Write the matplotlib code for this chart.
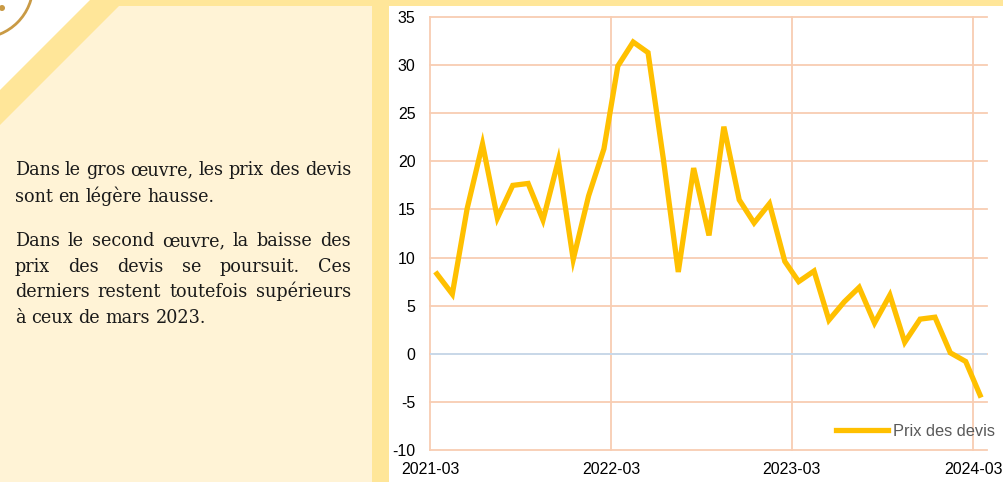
import matplotlib
matplotlib.use("Agg")
import matplotlib.pyplot as plt
from matplotlib.patches import Polygon, Arc, Circle
import pandas as pd

plt.rcParams["axes.unicode_minus"] = False

# data (one value per month, 2021-03 .. 2024-03)
months = pd.date_range("2021-03-01", periods=37, freq="MS") + pd.Timedelta(days=14)
prix_devis = [8.3, 6.2, 15.1, 21.8, 14.1, 17.5, 17.7, 13.9, 20.1, 9.8,
              16.4, 21.3, 29.9, 32.4, 31.3, 20.2, 8.5, 19.3, 12.3, 23.6,
              16.0, 13.6, 15.6, 9.6, 7.5, 8.6, 3.5, 5.4, 6.9, 3.2,
              6.1, 1.2, 3.6, 3.8, 0.1, -0.8, -4.3]
tick_dates = pd.to_datetime(["2021-03-01", "2022-03-01", "2023-03-01", "2024-03-01"])
tick_labels = ["2021-03", "2022-03", "2023-03", "2024-03"]
yticks = list(range(-10, 36, 5))

paragraphs = [
    ["Dans le gros œuvre, les prix des devis",
     "sont en légère hausse."],
    ["Dans le second œuvre, la baisse des",
     "prix des devis se poursuit. Ces",
     "derniers restent toutefois supérieurs",
     "à ceux de mars 2023."],
]

W, H = 1004, 482
fig = plt.figure(figsize=(W / 100, H / 100), dpi=100)

# background decoration in pixel coordinates
bg = fig.add_axes([0, 0, 1, 1], zorder=-1)
bg.set_xlim(0, W)
bg.set_ylim(H, 0)
bg.axis("off")
yellow = "#FFE699"
cream = "#FFF3D6"
bg.add_patch(Polygon([(90, 0), (W, 0), (W, 6), (389, 6), (389, H), (0, H), (0, 90)],
                     closed=True, color=yellow, lw=0))
bg.add_patch(Polygon([(119, 6), (372, 6), (372, H), (0, H), (0, 125)],
                     closed=True, color=cream, lw=0))
bg.add_patch(Arc((-20, -15), 106, 106, theta1=0, theta2=90, color="#C99A45", lw=2))
bg.add_patch(Circle((2, 8), 3, color="#C99A45", lw=0))

# justified text on the left
renderer = fig.canvas.get_renderer()
x0, x1 = 15, 351
baselines = [[175, 201.5], [246.5, 272, 297, 323]]
font = dict(family="DejaVu Serif", size=12.7, color="#1a1a1a")


def width_of(s):
    t = fig.text(0, 0, s, **font)
    w = t.get_window_extent(renderer).width
    t.remove()
    return w


space = width_of("a a") - width_of("aa")
for para, ys in zip(paragraphs, baselines):
    for i, (line, yb) in enumerate(zip(para, ys)):
        words = line.split(" ")
        texts = [fig.text(0, 1 - yb / H, w, va="baseline", ha="left", **font) for w in words]
        widths = [t.get_window_extent(renderer).width for t in texts]
        if i < len(para) - 1 and len(words) > 1:
            gap = (x1 - x0 - sum(widths)) / (len(words) - 1)
        else:
            gap = space
        x = x0
        for t, w in zip(texts, widths):
            t.set_x(x / W)
            x += w + gap

# chart
ax = fig.add_axes([430 / W, 1 - 450 / H, (987 - 430) / W, (450 - 17) / H])
ax.set_facecolor("none")
ax.plot(months, prix_devis, color="#FFC000", lw=3.8, label="Prix des devis",
        zorder=3, solid_joinstyle="miter")
ax.axhline(0, color="#C5D9EE", lw=1.3, zorder=2)
ax.set_ylim(-10, 35)
ax.set_xlim(pd.Timestamp("2021-03-01"), pd.Timestamp("2024-03-29"))
ax.set_yticks(yticks)
ax.set_xticks(tick_dates)
ax.set_xticklabels(tick_labels)
ax.tick_params(length=0, labelsize=11.5, colors="black")
ax.tick_params(axis="y", pad=10.5)
ax.tick_params(axis="x", pad=9)
for lab in ax.get_xticklabels() + ax.get_yticklabels():
    lab.set_family("Liberation Sans")
ax.grid(True, color="#F8CDB2", lw=1.3)
for gl in ax.get_xgridlines() + ax.get_ygridlines():
    gl.set_clip_on(False)
for s in ax.spines.values():
    s.set_visible(False)

fig.legend(loc="center left", bbox_to_anchor=(836 / W, 1 - 431 / H), frameon=False,
           borderpad=0, borderaxespad=0, handlelength=3.2, handletextpad=0.3,
           prop={"family": "Liberation Sans", "size": 11.8}, labelcolor="#595959")

fig.savefig("out.png", dpi=100)
